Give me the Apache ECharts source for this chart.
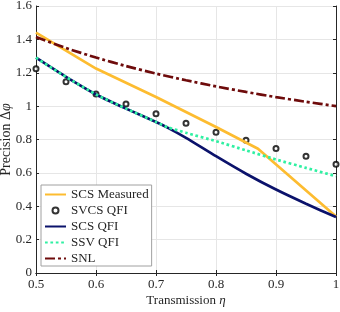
<!DOCTYPE html>
<html><head><meta charset="utf-8">
<script src="https://cdn.jsdelivr.net/npm/echarts@6/dist/echarts.min.js"></script>
<style>html,body{margin:0;padding:0;background:#fff}#c{width:340px;height:312px}</style>
</head><body><div id="c"></div>
<script>
const xTicks = [0.5, 0.6, 0.7, 0.8, 0.9, 1];
const yTicks = [0, 0.2, 0.4, 0.6, 0.8, 1, 1.2, 1.4, 1.6];

const etaMeasured = [0.5, 0.6, 0.7, 0.8, 0.87, 1.0];
const scsMeasured = [1.44, 1.225, 1.055, 0.875, 0.745, 0.338];

const etaCircles = [0.5, 0.55, 0.6, 0.65, 0.7, 0.75, 0.8, 0.85, 0.9, 0.95, 1.0];
const svcsQfi = [1.224, 1.146, 1.072, 1.012, 0.954, 0.898, 0.844, 0.796, 0.746, 0.700, 0.652];

const etaQfi = [0.5, 0.55, 0.6, 0.65, 0.7, 0.72, 0.75, 0.8, 0.85, 0.9, 0.95, 1.0];
const scsQfi = [1.29, 1.175, 1.07, 0.985, 0.905, 0.87, 0.81, 0.70, 0.595, 0.50, 0.415, 0.335];
const ssvQfi = [1.29, 1.175, 1.07, 0.985, 0.905, 0.873, 0.84, 0.79, 0.735, 0.68, 0.63, 0.58];

const etaSnl = [0.5, 0.55, 0.6, 0.65, 0.7, 0.75, 0.8, 0.85, 0.9, 0.95, 1.0];
const snl = [1.414, 1.348, 1.291, 1.240, 1.195, 1.155, 1.118, 1.085, 1.054, 1.026, 1.0];

const names = ['SCS Measured', 'SVCS QFI', 'SCS QFI', 'SSV QFI', 'SNL'];
const colors = ['#FDBC30', '#000000', '#0B126B', '#2FF0A2', '#6E0B0B'];

const pairs = (xs, ys) => xs.map((x, i) => [x, ys[i]]);
const FONT = '"Liberation Serif", "Times New Roman", serif';
const AX = '#262626';

const chart = echarts.init(document.getElementById('c'), null, {renderer: 'canvas'});
const baseAxis = {
  type: 'value',
  axisLine: {show: true, lineStyle: {color: AX, width: 1}},
  axisTick: {show: true, inside: true, length: 3, lineStyle: {color: AX}},
  splitLine: {show: false},
  axisLabel: {show: false}
};
chart.setOption({
  animation: false,
  grid: {left: 36, right: 4, top: 6, bottom: 39, containLabel: false, outerBoundsMode: 'none'},
  xAxis: [
    Object.assign({}, baseAxis, {
      min: 0.5, max: 1, interval: 0.1, position: 'bottom',
      splitLine: {show: true, lineStyle: {color: '#E6E6E6', width: 1}},
      axisLabel: {show: true, color: AX, fontFamily: FONT, fontSize: 13, margin: 5,
        formatter: v => { const t = xTicks.find(k => Math.abs(k - v) < 1e-6); return t === undefined ? '' : String(t); }},
      name: 'Transmission {i|η}', nameLocation: 'middle', nameGap: 21, nameMoveOverlap: false,
      nameTextStyle: {color: AX, fontFamily: FONT, fontSize: 13,
        rich: {i: {fontStyle: 'italic', fontFamily: FONT, fontSize: 13, color: AX}}}
    }),
    Object.assign({}, baseAxis, {min: 0.5, max: 1, interval: 0.1, position: 'top'})
  ],
  yAxis: [
    Object.assign({}, baseAxis, {
      min: 0, max: 1.6, interval: 0.2, position: 'left',
      splitLine: {show: true, lineStyle: {color: '#E6E6E6', width: 1}},
      axisLabel: {show: true, color: AX, fontFamily: FONT, fontSize: 13, margin: 4,
        formatter: v => { const t = yTicks.find(k => Math.abs(k - v) < 1e-6); return t === undefined ? '' : String(t); }},
      name: 'Precision Δ{i|φ}', nameLocation: 'middle', nameGap: 23, nameMoveOverlap: false,
      nameTextStyle: {color: AX, fontFamily: FONT, fontSize: 14,
        rich: {i: {fontStyle: 'italic', fontFamily: FONT, fontSize: 14, color: AX}}}
    }),
    Object.assign({}, baseAxis, {min: 0, max: 1.6, interval: 0.2, position: 'right'})
  ],
  legend: {
    show: true, orient: 'vertical', left: 41, top: 185,
    padding: [3, 3, 1, 3], itemGap: 3, itemWidth: 21, itemHeight: 6,
    backgroundColor: '#fff', borderColor: '#A0A0A0', borderWidth: 1,
    textStyle: {color: AX, fontFamily: FONT, fontSize: 13},
    data: names.map((n, i) => i === 1 ? {name: n} : {name: n, itemStyle: {opacity: 0}})
  },
  series: [
    {name: names[0], type: 'line', data: pairs(etaMeasured, scsMeasured), showSymbol: false, symbol: 'none',
      lineStyle: {color: colors[0], width: 2.7}, itemStyle: {color: colors[0]}},
    {name: names[1], type: 'scatter', data: pairs(etaCircles, svcsQfi), symbol: 'emptyCircle', symbolSize: 5,
      itemStyle: {color: colors[1], borderColor: colors[1], borderWidth: 1.2}},
    {name: names[2], type: 'line', data: pairs(etaQfi, scsQfi), showSymbol: false, symbol: 'none', smooth: 0.2,
      lineStyle: {color: colors[2], width: 2.7}, itemStyle: {color: colors[2]}},
    {name: names[3], type: 'line', data: pairs(etaQfi, ssvQfi), showSymbol: false, symbol: 'none', smooth: 0.2,
      lineStyle: {color: colors[3], width: 2.7, type: [2.7, 2.7]}, itemStyle: {color: colors[3]}},
    {name: names[4], type: 'line', data: pairs(etaSnl, snl), showSymbol: false, symbol: 'none', smooth: 0.2,
      lineStyle: {color: colors[4], width: 2.7, type: [10, 3, 3, 3]}, itemStyle: {color: colors[4]}}
  ]
});
</script></body></html>
